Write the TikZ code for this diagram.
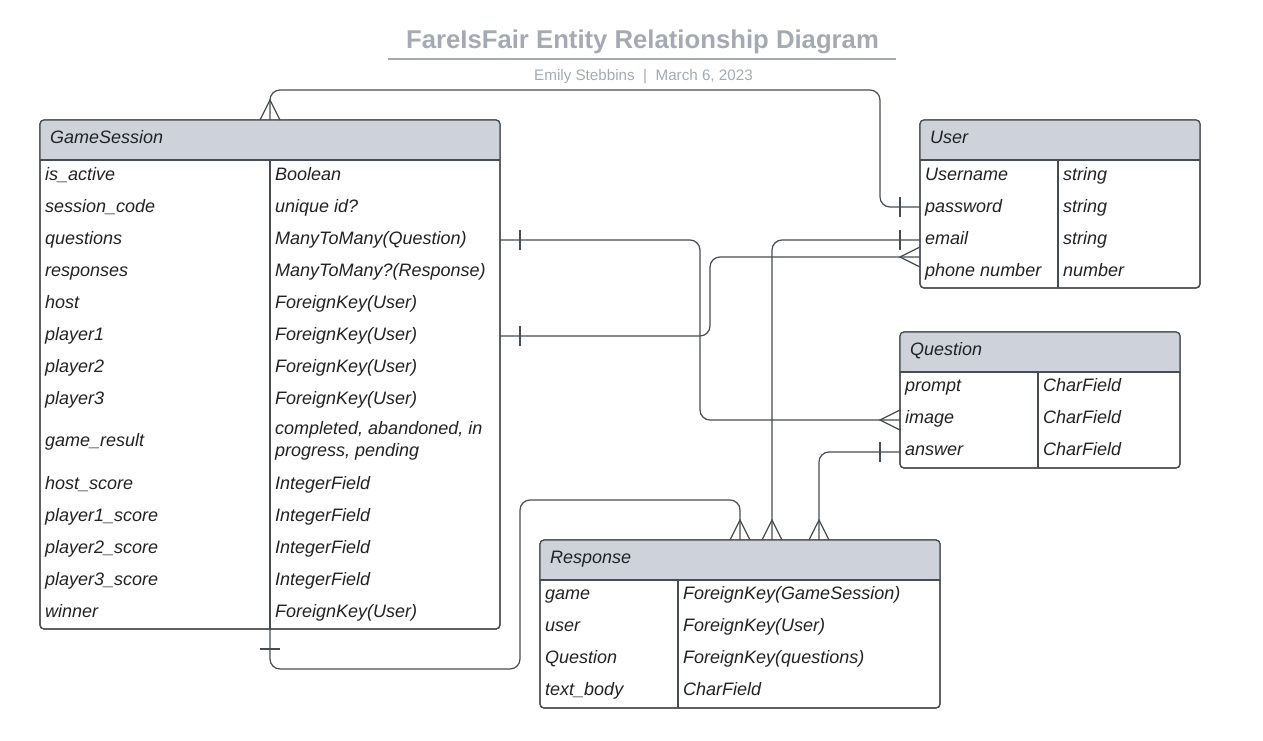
\documentclass[tikz,border=0pt]{standalone}
\usepackage{fontspec}
\setmainfont{Liberation Sans}
\usetikzlibrary{calc}
\definecolor{headc}{HTML}{CED3DB}
\definecolor{linec}{HTML}{474B52}
\definecolor{txtc}{HTML}{222222}
\definecolor{titlec}{HTML}{A4A9B3}
\newcommand\cellfont{\fontsize{18}{21.5}\selectfont\itshape}
\tikzset{
  frame/.style={draw=linec, line width=1.2pt},
  tblnode/.style={frame, fill=white, rounded corners=4pt, inner sep=0pt, outer sep=0pt, anchor=north west},
  cell/.style={anchor=base west, inner sep=0pt, font=\cellfont, text=txtc},
  conn/.style={draw=linec, line width=1.2pt, rounded corners=10pt},
  foot/.style={draw=linec, line width=1.2pt},
}
% name, x, y, w, h, divider x
\newcommand\ertable[6]{%
  \node[tblnode, minimum width=#4pt, minimum height=#5pt] (#1) at (#2,#3) {};
  \fill[headc, rounded corners=4pt] (#2,#3) rectangle (#2+#4,#3+40);
  \fill[headc] (#2,#3+30) rectangle (#2+#4,#3+40);
  \draw[frame] (#2,#3+40) -- (#2+#4,#3+40);
  \draw[frame] (#6,#3+40) -- (#6,#3+#5);
  \draw[frame, rounded corners=4pt] (#1.north west) rectangle (#1.south east);
}
% name, baseline y, x a, x b, text a, text b
\newcommand\errow[6]{%
  \node[cell] (#1a) at (#3,#2) {#5};
  \node[cell] (#1b) at (#4,#2) {#6};
}
\begin{document}
\begin{tikzpicture}[x=1pt,y=-1pt]
\useasboundingbox (0,0) rectangle (1263,741);

% title
\node[anchor=base, inner sep=0pt, text=titlec, font=\fontsize{25.7}{30}\selectfont\bfseries] (title) at (642.5,48.5) {FareIsFair Entity Relationship Diagram};
\draw[titlec, line width=2pt] (388,59.5) -- (896,59.5);
\node[anchor=base, inner sep=0pt, text=titlec, font=\fontsize{15.2}{18}\selectfont] (subtitle) at (643.5,80.3) {Emily Stebbins\ \ |\ \ March 6, 2023};

% ---------- GameSession
\ertable{gs}{40}{120}{460}{509}{270}
\node[cell] (gsh) at (50,143.5) {GameSession};
\errow{gs1}{180}{45}{275}{is\_active}{Boolean}
\errow{gs2}{212}{45}{275}{session\_code}{unique id?}
\errow{gs3}{244}{45}{275}{questions}{ManyToMany(Question)}
\errow{gs4}{276}{45}{275}{responses}{ManyToMany?(Response)}
\errow{gs5}{308}{45}{275}{host}{ForeignKey(User)}
\errow{gs6}{340}{45}{275}{player1}{ForeignKey(User)}
\errow{gs7}{372}{45}{275}{player2}{ForeignKey(User)}
\errow{gs8}{404}{45}{275}{player3}{ForeignKey(User)}
\node[cell] (gs9a) at (45,446.5) {game\_result};
\node[cell, anchor=west, align=left] (gs9b) at (275,441) {completed, abandoned, in\\progress, pending};
\errow{gs10}{489}{45}{275}{host\_score}{IntegerField}
\errow{gs11}{521}{45}{275}{player1\_score}{IntegerField}
\errow{gs12}{553}{45}{275}{player2\_score}{IntegerField}
\errow{gs13}{585}{45}{275}{player3\_score}{IntegerField}
\errow{gs14}{617}{45}{275}{winner}{ForeignKey(User)}

% ---------- User
\ertable{us}{920}{120}{280}{168}{1058}
\node[cell] (ush) at (930,143.5) {User};
\errow{us1}{180}{925}{1063}{Username}{string}
\errow{us2}{212}{925}{1063}{password}{string}
\errow{us3}{244}{925}{1063}{email}{string}
\errow{us4}{276}{925}{1063}{phone number}{number}

% ---------- Question
\ertable{qu}{900}{332}{280}{136}{1038}
\node[cell] (quh) at (910,355.5) {Question};
\errow{qu1}{391.5}{905}{1043}{prompt}{CharField}
\errow{qu2}{423.5}{905}{1043}{image}{CharField}
\errow{qu3}{455.5}{905}{1043}{answer}{CharField}

% ---------- Response
\ertable{re}{540}{540}{400}{168}{678}
\node[cell] (reh) at (550,563.5) {Response};
\errow{re1}{599.5}{545}{683}{game}{ForeignKey(GameSession)}
\errow{re2}{631.5}{545}{683}{user}{ForeignKey(User)}
\errow{re3}{663.5}{545}{683}{Question}{ForeignKey(questions)}
\errow{re4}{695.5}{545}{683}{text\_body}{CharField}

% ---------- connector end points
\coordinate (gsT) at (270,120);
\coordinate (gsB) at (270,629);
\coordinate (gsQ) at (500,240);
\coordinate (gsP) at (500,336);
\coordinate (usPw) at (920,207);
\coordinate (usEm) at (920,240);
\coordinate (usPh) at (920,257);
\coordinate (quIm) at (900,420);
\coordinate (quAn) at (900,452);
\coordinate (reG) at (740,540);
\coordinate (reU) at (772,540);
\coordinate (reQ) at (819,540);

% ---------- connectors
\draw[conn] (gsT) -- (270,90) -- (880,90) -- (880,207) -- (usPw);
\draw[conn] (gsQ) -- (700,240) -- (700,420) -- (quIm);
\draw[conn] (gsP) -- (710,336) -- (710,257) -- (usPh);
\draw[conn] (usEm) -- (772,240) -- (reU);
\draw[conn] (quAn) -- (819,452) -- (reQ);
\draw[conn] (gsB) -- (270,669) -- (520,669) -- (520,500) -- (740,500) -- (reG);

% ---------- crow's feet (many)
\draw[foot] ($(gsT)+(-10,0)$) -- ($(gsT)+(0,-20)$) -- ($(gsT)+(10,0)$);
\draw[foot] ($(usPh)+(0,-10)$) -- ($(usPh)+(-20,0)$) -- ($(usPh)+(0,10)$);
\draw[foot] ($(quIm)+(0,-10)$) -- ($(quIm)+(-20,0)$) -- ($(quIm)+(0,10)$);
\draw[foot] ($(reG)+(-10,0)$) -- ($(reG)+(0,-20)$) -- ($(reG)+(10,0)$);
\draw[foot] ($(reU)+(-10,0)$) -- ($(reU)+(0,-20)$) -- ($(reU)+(10,0)$);
\draw[foot] ($(reQ)+(-10,0)$) -- ($(reQ)+(0,-20)$) -- ($(reQ)+(10,0)$);

% ---------- ticks (one)
\draw[foot] ($(usPw)+(-20,-10)$) -- ($(usPw)+(-20,10)$);
\draw[foot] ($(usEm)+(-20,-10)$) -- ($(usEm)+(-20,10)$);
\draw[foot] ($(gsQ)+(20,-10)$) -- ($(gsQ)+(20,10)$);
\draw[foot] ($(gsP)+(20,-10)$) -- ($(gsP)+(20,10)$);
\draw[foot] ($(quAn)+(-20,-10)$) -- ($(quAn)+(-20,10)$);
\draw[foot] ($(gsB)+(-10,20)$) -- ($(gsB)+(10,20)$);
\end{tikzpicture}
\end{document}
